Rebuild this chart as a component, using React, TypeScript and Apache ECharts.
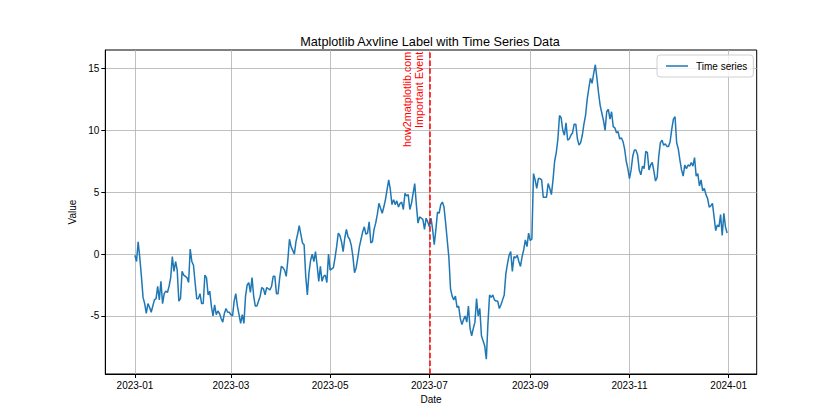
import React, { useEffect, useRef } from "react";
import * as echarts from "echarts";

const TITLE = "Matplotlib Axvline Label with Time Series Data";
const SERIES_NAME = "Time series";
const X_NAME = "Date";
const Y_NAME = "Value";
const START_DATE = "2023-01-01";
const EVENT_DATE = "2023-07-01";
const EVENT_LABEL = "Important Event";
const WATERMARK = "how2matplotlib.com";

const TICK_DATES = ["2023-01-01", "2023-03-01", "2023-05-01", "2023-07-01", "2023-09-01", "2023-11-01", "2024-01-01"];
const TICK_LABELS = ["2023-01", "2023-03", "2023-05", "2023-07", "2023-09", "2023-11", "2024-01"];
const Y_TICKS = [-5, 0, 5, 10, 15];

// daily values, in consecutive blocks
const VALUES_BLOCK_1 = [
  -0.1, -0.6, 1.0, -0.3, -1.8, -3.5, -4.0, -4.8, -4.0, -4.3,
  -4.7, -4.2, -3.7, -3.6, -2.6, -3.7, -2.2, -4.0, -3.2, -3.0,
  -3.1, -2.6, -1.9, -0.2, -1.4, -0.6, -1.3, -3.8, -3.6, -1.4,
  -1.7, -1.8, -1.9, -2.3, 0.4, -0.6, -0.9, -2.3, -3.6, -3.6,
  -3.2, -4.0, -4.0, -1.7, -1.9, -3.3, -3.0, -4.2, -5.0, -4.1,
  -4.9, -4.6, -4.8, -5.2, -5.5, -4.8, -4.4, -4.7, -4.7, -4.9,
  -5.0, -3.8,
];
const VALUES_BLOCK_2 = [
  -3.2, -4.2, -4.9, -5.6, -4.9, -5.6, -3.4, -2.5, -2.3, -3.1,
  -1.9, -3.4, -4.2, -4.2, -3.8, -3.4, -2.7, -2.8, -3.3, -2.7,
  -2.8, -2.9, -2.6, -1.8, -1.8, -3.2, -3.2, -1.9, -1.0, -1.1,
  -1.3, -1.8, -0.5, 1.2, 0.6, 0.3, 0.0, 1.0, 1.6, 2.3,
  1.6, 0.9, 0.75, -1.8, -3.3, -1.5, -0.5, 0.0, -0.6, 0.2,
  -0.9, -2.2, -1.0, -2.2, -1.8, -1.7, -2.3, 0.0, -1.3, -1.2,
  -1.1, -0.3, 0.6, 1.7,
];
const VALUES_BLOCK_3 = [
  1.5, 1.0, 0.2, 1.3, 2.0, 1.4, 1.2, 0.7, -0.2, -1.5,
  -1.1, -0.3, 0.6, 1.2, 1.8, 2.2, 1.6, 1.7, 2.6, 0.9,
  1.0, 2.0, 2.5, 3.2, 4.1, 3.7, 3.3, 3.8, 4.4, 5.2,
  6.0, 5.2, 4.0, 4.4, 4.0, 4.3, 3.8, 4.1, 4.2, 3.6,
  4.9, 4.7, 4.8, 3.6, 4.1, 4.9, 5.7, 4.0, 2.5, 3.0,
  2.9, 2.8, 2.0, 2.9, 2.6, 2.2, 2.9, 2.0, 0.75, 2.0,
  3.4, 3.3, 4.0, 4.2,
];
const VALUES_BLOCK_4 = [
  3.8, 2.5, 1.1, -0.3, -2.8, -3.4, -3.7, -3.4, -4.3, -4.2,
  -5.2, -5.7, -5.3, -5.0, -5.5, -4.2, -6.0, -6.6, -6.0, -5.5,
  -3.6, -5.0, -4.4, -6.6, -7.0, -7.4, -8.5, -5.6, -3.3, -3.5,
  -3.3, -3.7, -3.8, -3.8, -4.4, -4.1, -3.7, -3.3, -1.6, -0.8,
  -0.1, 0.2, -1.4, -0.2, -0.3, -0.1, -0.6, -1.0, -0.2, 0.35,
  1.15, 0.6, 1.7, 1.1, 1.2, 6.5,
];
const VALUES_BLOCK_5 = [
  6.0, 5.3, 6.1, 6.1, 6.0, 4.6, 4.6, 4.6, 5.7, 5.3,
  4.8, 6.0, 7.5, 8.2, 9.3, 11.2, 11.0, 10.0, 9.6, 10.6,
  9.2, 9.3, 9.6, 9.8, 10.5, 10.5, 9.3, 8.8, 9.0, 9.6,
  10.5, 11.2, 12.5, 13.4, 14.2, 13.8, 14.6, 15.3, 14.2, 13.0,
  12.0, 11.4, 10.8, 10.0, 11.5, 11.7, 10.9, 11.5, 10.3, 10.2,
  9.8, 9.9, 9.3, 9.4, 9.1, 8.5, 7.5, 6.9, 6.1, 6.8,
  7.9, 8.4,
];
const VALUES_BLOCK_6 = [
  8.4, 8.0, 6.8, 6.4, 7.1, 6.9, 8.3, 8.2, 6.8, 7.2,
  7.4, 6.7, 5.9, 6.2, 7.9, 9.0, 9.2, 8.8, 8.9, 8.7,
  8.7, 9.1, 10.1, 10.9, 11.1, 9.0, 8.5, 7.6, 6.8, 6.3,
  7.2, 6.9, 7.2, 7.1, 7.4, 7.1, 7.8, 6.3, 6.5, 5.5,
  6.0, 5.1, 5.3, 4.8, 4.5, 3.8, 3.9, 4.1, 3.0, 1.9,
  2.35, 2.2, 3.2, 1.5, 3.3, 2.2, 1.7,
];

const FONT = "'Liberation Sans', Arial, sans-serif";
const LINE_COLOR = "#1f77b4";
const DAY_MS = 86400000;

export default function App() {
  const ref = useRef<HTMLDivElement>(null);

  useEffect(() => {
    if (!ref.current) return;
    const chart = echarts.init(ref.current, undefined, { renderer: "svg" });

    const values = [
      ...VALUES_BLOCK_1,
      ...VALUES_BLOCK_2,
      ...VALUES_BLOCK_3,
      ...VALUES_BLOCK_4,
      ...VALUES_BLOCK_5,
      ...VALUES_BLOCK_6,
    ];
    const start = Date.parse(START_DATE);
    const data = values.map((v, i) => [start + i * DAY_MS, v]);
    const end = start + (values.length - 1) * DAY_MS;
    const xPad = (end - start) * 0.05;
    const vMin = Math.min(...values);
    const vMax = Math.max(...values);
    const yPad = (vMax - vMin) * 0.05;
    const yMin = vMin - yPad;
    const yMax = vMax + yPad;

    const tickTs = TICK_DATES.map((d) => Date.parse(d));
    const eventTs = Date.parse(EVENT_DATE);
    const labelFor = (v: number) => {
      const idx = tickTs.findIndex((t) => Math.abs(t - v) < DAY_MS / 2);
      return idx >= 0 ? TICK_LABELS[idx] : "";
    };

    const gridLine = { show: true, lineStyle: { color: "#b0b0b0", width: 0.8 } };

    chart.setOption({
      animation: false,
      backgroundColor: "#ffffff",
      textStyle: { fontFamily: FONT },
      title: {
        text: TITLE,
        left: 425,
        top: 30,
        textAlign: "center",
        textStyle: { fontFamily: FONT, fontSize: 12.7, fontWeight: "normal", color: "#000" },
      },
      legend: {
        left: 657,
        top: 55,
        orient: "vertical",
        data: [{ name: SERIES_NAME, icon: "rect" }],
        itemWidth: 22,
        itemHeight: 1.5,
        padding: [5, 6, 5, 9],
        borderColor: "#d0d0d0",
        borderWidth: 1,
        borderRadius: 3,
        backgroundColor: "rgba(255,255,255,0.8)",
        textStyle: { fontFamily: FONT, fontSize: 10, color: "#000", padding: [0, 0, 0, 3], lineHeight: 12 },
      },
      grid: {
        left: 105.3,
        top: 50,
        width: 651.4,
        height: 324,
        show: true,
        borderColor: "#000",
        borderWidth: 1,
        backgroundColor: "transparent",
      },
      xAxis: {
        type: "value",
        min: start - xPad,
        max: end + xPad,
        name: X_NAME,
        nameLocation: "middle",
        nameGap: 20,
        nameTextStyle: { fontFamily: FONT, fontSize: 10, color: "#000" },
        axisLine: { show: true, onZero: false, lineStyle: { color: "#000", width: 1 } },
        axisTick: { show: true, length: 4, lineStyle: { color: "#000" }, customValues: tickTs },
        axisLabel: {
          customValues: tickTs,
          formatter: (v: number) => labelFor(v),
          fontFamily: FONT,
          fontSize: 10,
          color: "#000",
          margin: 6,
        },
        splitLine: gridLine,
      },
      yAxis: {
        type: "value",
        min: yMin,
        max: yMax,
        name: Y_NAME,
        nameLocation: "middle",
        nameGap: 27,
        nameTextStyle: { fontFamily: FONT, fontSize: 10, color: "#000" },
        axisLine: { show: true, onZero: false, lineStyle: { color: "#000", width: 1 } },
        axisTick: { show: true, length: 4, lineStyle: { color: "#000" }, customValues: Y_TICKS },
        axisLabel: {
          customValues: Y_TICKS,
          fontFamily: FONT,
          fontSize: 10,
          color: "#000",
          margin: 6,
        },
        splitLine: gridLine,
      },
      series: [
        {
          name: SERIES_NAME,
          type: "line",
          data,
          symbol: "none",
          showSymbol: false,
          lineStyle: { color: LINE_COLOR, width: 1.5 },
          itemStyle: { color: LINE_COLOR },
          markLine: {
            silent: true,
            symbol: "none",
            label: { show: false },
            lineStyle: { color: "#ff0000", type: [5.5, 2.4], width: 1.5 },
            data: [{ xAxis: eventTs }],
          },
        },
      ],
    });

    const top = chart.convertToPixel({ xAxisIndex: 0, yAxisIndex: 0 }, [eventTs, yMax]) as number[];
    const ex = top[0];
    const ey = top[1];
    chart.setOption({
      graphic: [
        {
          type: "text",
          x: ex - 4.5,
          y: ey + 1.7,
          rotation: Math.PI / 2,
          style: {
            text: EVENT_LABEL,
            fill: "#ff0000",
            fontFamily: FONT,
            fontSize: 10.8,
            align: "right",
            verticalAlign: "bottom",
          },
        },
        {
          type: "text",
          x: ex - 16.5,
          y: ey + 1.7,
          rotation: Math.PI / 2,
          style: {
            text: WATERMARK,
            fill: "#ff0000",
            fontFamily: FONT,
            fontSize: 10.8,
            align: "right",
            verticalAlign: "bottom",
          },
        },
      ],
    });

    return () => chart.dispose();
  }, []);

  return (
    <div
      ref={ref}
      style={{ position: "fixed", left: 0, top: 0, width: 840, height: 420 }}
    />
  );
}
